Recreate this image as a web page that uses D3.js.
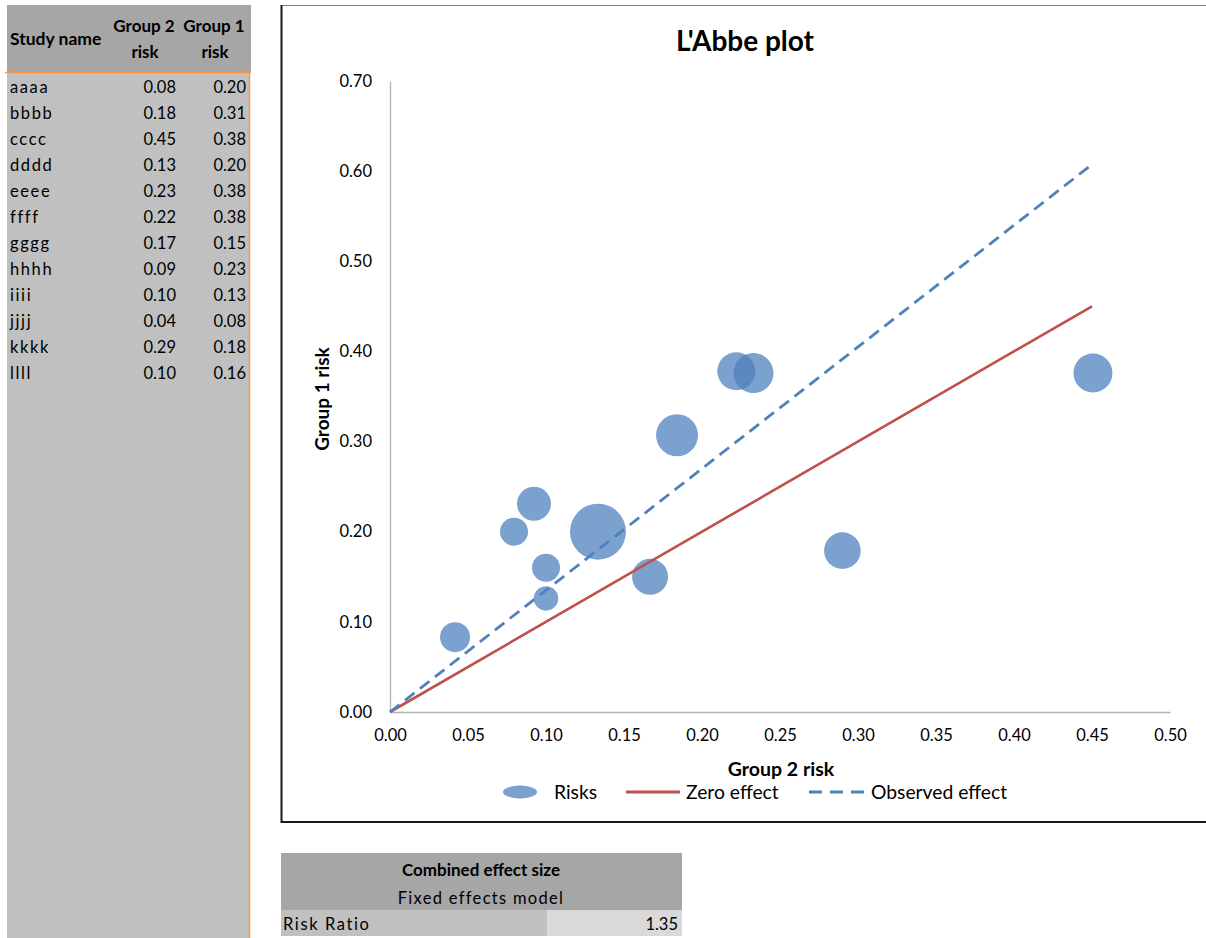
<!DOCTYPE html>
<html>
<head>
<meta charset="utf-8">
<script src="https://cdn.jsdelivr.net/npm/d3@7"></script>
<style>
  body { margin: 0; background: #fff; }
  svg { display: block; }
  text { font-family: Lato, "Open Sans", sans-serif; fill: #000; }
</style>
</head>
<body>
<svg id="chart" width="1206" height="938"></svg>
<script>
// ---- data ----
const studyNames = ["aaaa","bbbb","cccc","dddd","eeee","ffff","gggg","hhhh","iiii","jjjj","kkkk","llll"];
const group2Risk = [0.0795, 0.184, 0.4506, 0.1333, 0.233, 0.222, 0.1667, 0.0923, 0.100, 0.0417, 0.290, 0.100];
const group1Risk = [0.200, 0.307, 0.376, 0.200, 0.376, 0.378, 0.150, 0.231, 0.126, 0.083, 0.179, 0.160];
const studyWeights = [196, 441, 380, 784, 400, 361, 324, 289, 150, 225, 336, 196];
const xTicks = [0, 0.05, 0.10, 0.15, 0.20, 0.25, 0.30, 0.35, 0.40, 0.45, 0.50];
const yTicks = [0, 0.10, 0.20, 0.30, 0.40, 0.50, 0.60, 0.70];
const zeroEffect = [[0, 0], [0.45, 0.45]];
const riskRatio = 1.35;
const observedEffect = [[0, 0], [0.45, 0.45 * riskRatio]];
const legendItems = ["Risks", "Zero effect", "Observed effect"];

const svg = d3.select("#chart");
const fmt = d3.format(".2f");

// ---- left table ----
svg.append("rect").attr("x", 7).attr("y", 72).attr("width", 243).attr("height", 866).attr("fill", "#c0c0c0");
svg.append("rect").attr("x", 7).attr("y", 5).attr("width", 244).attr("height", 67).attr("fill", "#a6a6a6");
svg.append("line").attr("x1", 5).attr("x2", 251).attr("y1", 72.5).attr("y2", 72.5).attr("stroke", "#f79646").attr("stroke-width", 1.5);
svg.append("line").attr("x1", 249.5).attr("x2", 249.5).attr("y1", 72).attr("y2", 938).attr("stroke", "#f79646").attr("stroke-width", 1.5);

const hdr = svg.append("g").attr("font-weight", "bold").attr("font-size", 17);
hdr.append("text").attr("x", 10).attr("y", 45).attr("font-size", 17.5).text("Study name");
hdr.append("text").attr("x", 144).attr("y", 32).attr("text-anchor", "middle").text("Group 2");
hdr.append("text").attr("x", 145).attr("y", 58).attr("text-anchor", "middle").text("risk");
hdr.append("text").attr("x", 214).attr("y", 32).attr("text-anchor", "middle").text("Group 1");
hdr.append("text").attr("x", 215).attr("y", 58).attr("text-anchor", "middle").text("risk");

const rowY = d3.scaleLinear().domain([0, 11]).range([87, 373]);
const rows = svg.append("g").attr("font-size", 16.5);
studyNames.forEach((n, i) => {
  const yy = rowY(i) + 6;
  rows.append("text").attr("x", 10).attr("y", yy).attr("letter-spacing", 1.6).text(n);
  rows.append("text").attr("x", 176).attr("y", yy).attr("text-anchor", "end").text(fmt(group2Risk[i]));
  rows.append("text").attr("x", 246).attr("y", yy).attr("text-anchor", "end").text(fmt(group1Risk[i]));
});

// ---- chart frame ----
svg.append("line").attr("x1", 281).attr("x2", 1206).attr("y1", 5.5).attr("y2", 5.5).attr("stroke", "#808080").attr("stroke-width", 1);
svg.append("line").attr("x1", 281.5).attr("x2", 281.5).attr("y1", 5).attr("y2", 823).attr("stroke", "#1a1a1a").attr("stroke-width", 2);
svg.append("line").attr("x1", 281).attr("x2", 1206).attr("y1", 822).attr("y2", 822).attr("stroke", "#1a1a1a").attr("stroke-width", 2);

// ---- scales ----
const x = d3.scaleLinear().domain([0, 0.5]).range([390, 1170]);
const y = d3.scaleLinear().domain([0, 0.7]).range([712, 81]);
const r = d3.scaleSqrt().domain([0, 784]).range([0, 28]);

// axes
const xAxis = svg.append("g").attr("transform", "translate(0,712)")
  .call(d3.axisBottom(x).tickValues(xTicks).tickFormat(fmt).tickSize(0).tickPadding(17));
const yAxis = svg.append("g").attr("transform", "translate(390,0)")
  .call(d3.axisLeft(y).tickValues(yTicks).tickFormat(fmt).tickSize(0).tickPadding(18));
[xAxis, yAxis].forEach(a => {
  a.select(".domain").attr("stroke", "#b3b3b3").attr("stroke-width", 1.3);
  a.selectAll("text").attr("font-family", "Lato, sans-serif").attr("font-size", 16.5).attr("fill", "#000");
});

// bubbles
svg.append("g").selectAll("circle").data(studyNames).join("circle")
  .attr("cx", (d, i) => x(group2Risk[i]))
  .attr("cy", (d, i) => y(group1Risk[i]))
  .attr("r", (d, i) => r(studyWeights[i]))
  .attr("fill", "#4f81bd").attr("fill-opacity", 0.75);

// lines
const line = d3.line().x(d => x(d[0])).y(d => y(d[1]));
svg.append("path").attr("d", line(zeroEffect)).attr("fill", "none").attr("stroke", "#c0504d").attr("stroke-width", 2.6);
svg.append("path").attr("d", line(observedEffect)).attr("fill", "none").attr("stroke", "#4f81bd").attr("stroke-width", 2.8).attr("stroke-dasharray", "12,7");

// titles
svg.append("text").attr("x", 745).attr("y", 51).attr("text-anchor", "middle").attr("font-weight", "bold").attr("font-size", 28).text("L'Abbe plot");
svg.append("text").attr("x", 781).attr("y", 776).attr("text-anchor", "middle").attr("font-weight", "bold").attr("font-size", 19.5).text("Group 2 risk");
svg.append("text").attr("transform", "translate(329,399) rotate(-90)").attr("text-anchor", "middle").attr("font-weight", "bold").attr("font-size", 19).text("Group 1 risk");

// legend
const lg = svg.append("g").attr("font-size", 19.3);
lg.append("ellipse").attr("cx", 520).attr("cy", 792).attr("rx", 17).attr("ry", 6.5).attr("fill", "#4f81bd").attr("fill-opacity", 0.75);
lg.append("text").attr("x", 554).attr("y", 799).text(legendItems[0]);
lg.append("line").attr("x1", 626).attr("x2", 680).attr("y1", 792).attr("y2", 792).attr("stroke", "#c0504d").attr("stroke-width", 2.8);
lg.append("text").attr("x", 686).attr("y", 799).text(legendItems[1]);
lg.append("line").attr("x1", 809).attr("x2", 864).attr("y1", 792).attr("y2", 792).attr("stroke", "#4f81bd").attr("stroke-width", 2.8).attr("stroke-dasharray", "13,8");
lg.append("text").attr("x", 871).attr("y", 799).text(legendItems[2]);

// ---- bottom table ----
svg.append("rect").attr("x", 281).attr("y", 853).attr("width", 401).attr("height", 57).attr("fill", "#a6a6a6");
svg.append("rect").attr("x", 281).attr("y", 910).attr("width", 266).attr("height", 26).attr("fill", "#c0c0c0");
svg.append("rect").attr("x", 547).attr("y", 910).attr("width", 135).attr("height", 26).attr("fill", "#d9d9d9");
svg.append("text").attr("x", 481).attr("y", 876).attr("text-anchor", "middle").attr("font-weight", "bold").attr("font-size", 17).text("Combined effect size");
svg.append("text").attr("x", 481).attr("y", 904).attr("text-anchor", "middle").attr("font-size", 16.5).attr("letter-spacing", 1.3).text("Fixed effects model");
svg.append("text").attr("x", 283).attr("y", 930).attr("font-size", 16.5).attr("letter-spacing", 1.6).text("Risk Ratio");
svg.append("text").attr("x", 678).attr("y", 930).attr("text-anchor", "end").attr("font-size", 16.5).text(fmt(riskRatio));
</script>
</body>
</html>
